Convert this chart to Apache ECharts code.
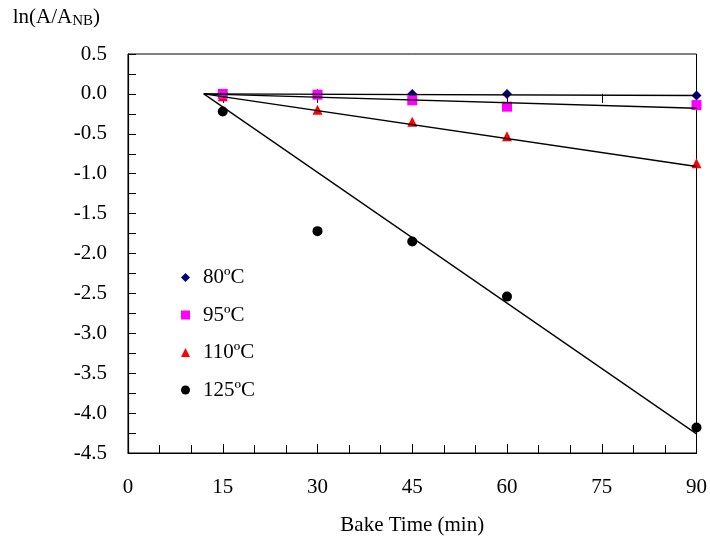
<!DOCTYPE html>
<html>
<head>
<meta charset="utf-8">
<script src="https://cdn.jsdelivr.net/npm/echarts@6/dist/echarts.min.js"></script>
<style>html,body{margin:0;padding:0;background:#fff}#c{width:710px;height:542px}</style>
</head>
<body>
<div id="c"></div>
<script>
const times = [15, 30, 45, 60, 90];
const names = ['80ºC', '95ºC', '110ºC', '125ºC'];
const v80  = [0.0, 0.0, 0.0, 0.0, -0.02];
const v95  = [0.0, -0.01, -0.08, -0.16, -0.14];
const v110 = [-0.03, -0.20, -0.35, -0.53, -0.87];
const v125 = [-0.22, -1.72, -1.85, -2.54, -4.18];
const fitStartX = 12;
const fitStartY = [0, 0, 0, 0];
const fitEndX = 90;
const fitEndY = [-0.02, -0.18, -0.91, -4.26];
const xTicks = [0, 15, 30, 45, 60, 75, 90];

const FONT = "'Liberation Serif','Times New Roman',serif";
const FS = 21;
const values = [v80, v95, v110, v125];
const colors = ['#000080', '#FF00FF', '#FF0000', '#000000'];
const symbols = ['diamond', 'rect', 'triangle', 'circle'];
const sizes = [10, 10, 10, 10];
const zs = [4, 5, 3, 3];

const series = [];
names.forEach((n, i) => {
  series.push({
    name: n, type: 'scatter', symbol: symbols[i], symbolSize: sizes[i],
    itemStyle: { color: colors[i], opacity: 1 }, z: zs[i],
    data: times.map((t, j) => [t, values[i][j]])
  });
});
names.forEach((n, i) => {
  series.push({
    type: 'line', symbol: 'none', silent: true, z: 6,
    lineStyle: { color: '#000', width: 1.3 },
    data: [[fitStartX, fitStartY[i]], [fitEndX, fitEndY[i]]]
  });
});

const chart = echarts.init(document.getElementById('c'), null, { renderer: 'canvas' });
chart.setOption({
  animation: false,
  backgroundColor: '#fff',
  textStyle: { fontFamily: FONT },
  grid: { left: 128, right: 13, top: 54, bottom: 89, show: true, borderColor: '#000', borderWidth: 1, backgroundColor: 'transparent' },
  legend: {
    data: names, orient: 'vertical', left: 176, top: 262,
    itemWidth: 9, itemHeight: 9, itemGap: 16.5,
    textStyle: { fontFamily: FONT, fontSize: FS, color: '#000', padding: [0, 0, 0, 8] },
    selectedMode: false
  },
  xAxis: [{
    type: 'value', min: xTicks[0], max: xTicks[xTicks.length - 1], interval: 15,
    position: 'bottom',
    name: 'Bake Time (min)', nameLocation: 'middle', nameGap: 62,
    nameTextStyle: { fontFamily: FONT, fontSize: FS, color: '#000' },
    axisLine: { show: true, onZero: false, lineStyle: { color: '#000', width: 1.2 } },
    axisTick: { show: true, inside: true, length: 9, lineStyle: { color: '#000' } },
    minorTick: { show: true, splitNumber: 3, length: 8, lineStyle: { color: '#000' } },
    splitLine: { show: false },
    axisLabel: { fontFamily: FONT, fontSize: FS, color: '#000', margin: 24 }
  }, {
    type: 'value', min: xTicks[0], max: xTicks[xTicks.length - 1], interval: 15,
    position: 'bottom', offset: 0,
    axisLine: { show: false },
    axisTick: { show: true, inside: false, length: 9, lineStyle: { color: '#000' } },
    splitLine: { show: false },
    axisLabel: { show: false }
  }],
  yAxis: {
    type: 'value', min: -4.5, max: 0.5, interval: 0.5,
    name: '{a|ln(A/A}{b|NB}{a|)}', nameLocation: 'end', nameGap: 25,
    nameTextStyle: {
      align: 'right', padding: [0, 28, 0, 0],
      rich: {
        a: { fontFamily: FONT, fontSize: FS, color: '#000' },
        b: { fontFamily: FONT, fontSize: 15, color: '#000', verticalAlign: 'bottom', padding: [8, 0, 0, 0] }
      }
    },
    axisLine: { show: true, onZero: false, lineStyle: { color: '#000', width: 1.2 } },
    axisTick: { show: true, inside: true, length: 8, lineStyle: { color: '#000' } },
    minorTick: { show: true, splitNumber: 2, length: 8, lineStyle: { color: '#000' } },
    splitLine: { show: false },
    axisLabel: { fontFamily: FONT, fontSize: FS, color: '#000', margin: 21, formatter: v => v.toFixed(1) }
  },
  series: series
});
</script>
</body>
</html>
